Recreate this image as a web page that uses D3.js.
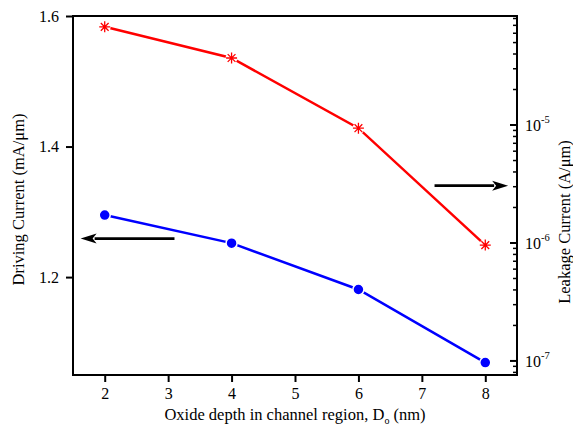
<!DOCTYPE html>
<html>
<head>
<meta charset="utf-8">
<script src="https://cdn.jsdelivr.net/npm/d3@7"></script>
<style>
  body { margin: 0; background: #fff; }
  svg text { font-family: "Liberation Serif", "Times New Roman", serif; fill: #000; }
</style>
</head>
<body>
<svg id="chart" width="573" height="427"></svg>
<script>
// data
let depth = [2, 4, 6, 8];                       // oxide depth (nm)
let drivingCurrent = [1.295, 1.252, 1.181, 1.069]; // mA/um, left axis
let leakageCurrent = [6.8e-5, 3.7e-5, 9.4e-6, 9.6e-7]; // A/um, right axis
let xTicks = [2, 3, 4, 5, 6, 7, 8];
let leftTicks = [1.2, 1.4, 1.6];
let rightTicks = [1e-7, 1e-6, 1e-5];
let rightExps = ['-7', '-6', '-5'];
// arrows pointing to each axis: [x from, x to, y (left axis units)]
let arrows = [[3.1, 1.62, 1.259], [7.2, 8.36, 1.340]];

let svg = d3.select('#chart');
let margin = {top: 16, right: 56, bottom: 52, left: 73};
let W = 573, H = 427;
let x0 = margin.left, x1 = W - margin.right, y0 = H - margin.bottom, y1 = margin.top;

let x = d3.scaleLinear().domain([1.5, 8.5]).range([x0, x1]);
let yL = d3.scaleLinear().domain([1.05, 1.6]).range([y0, y1]);
let yR = d3.scaleLog().domain([7.6e-8, 8.4e-5]).range([y0, y1]);

// frame
svg.append('rect')
  .attr('x', x0).attr('y', y1)
  .attr('width', x1 - x0).attr('height', y0 - y1)
  .attr('fill', 'none').attr('stroke', '#000').attr('stroke-width', 2);

// bottom axis
let xAxis = d3.axisBottom(x).tickValues(xTicks).tickSize(7).tickPadding(6).tickFormat(d3.format('d'));
let gx = svg.append('g').attr('transform', 'translate(0,' + y0 + ')').call(xAxis);
gx.select('.domain').remove();
gx.selectAll('line').attr('stroke-width', 2);
gx.selectAll('text').attr('font-size', 16);

// left axis
let yAxis = d3.axisLeft(yL).tickValues(leftTicks).tickSize(7).tickPadding(7).tickFormat(d3.format('.1f'));
let gy = svg.append('g').attr('transform', 'translate(' + x0 + ',0)').call(yAxis);
gy.select('.domain').remove();
gy.selectAll('line').attr('stroke-width', 2);
gy.selectAll('text').attr('font-size', 16);

// right log axis: inward ticks, minor ticks 2..9
let minor = [];
[1e-8, 1e-7, 1e-6, 1e-5].forEach(function (dec) {
  for (let k = 2; k <= 9; k++) {
    let v = dec * k;
    if (v >= yR.domain()[0] && v <= yR.domain()[1]) minor.push(v);
  }
});
let gr = svg.append('g');
gr.selectAll('line.minor').data(minor).enter().append('line')
  .attr('x1', x1 - 4).attr('x2', x1)
  .attr('y1', d => yR(d)).attr('y2', d => yR(d))
  .attr('stroke', '#000').attr('stroke-width', 1.5);
gr.selectAll('line.major').data(rightTicks).enter().append('line')
  .attr('x1', x1 - 7).attr('x2', x1)
  .attr('y1', d => yR(d)).attr('y2', d => yR(d))
  .attr('stroke', '#000').attr('stroke-width', 2);
let rl = gr.selectAll('text.lab').data(rightTicks).enter().append('text')
  .attr('x', x1 + 8).attr('y', d => yR(d) + 6)
  .attr('font-size', 16);
rl.append('tspan').text('10');
rl.append('tspan').attr('font-size', 10.5).attr('dy', -8).text((d, i) => rightExps[i]);

// series lines
let lineL = d3.line().x((d, i) => x(depth[i])).y(d => yL(d));
let lineR = d3.line().x((d, i) => x(depth[i])).y(d => yR(d));

svg.append('path').datum(leakageCurrent)
  .attr('d', lineR).attr('fill', 'none').attr('stroke', '#ff0000').attr('stroke-width', 2.5);
svg.append('path').datum(drivingCurrent)
  .attr('d', lineL).attr('fill', 'none').attr('stroke', '#0000ff').attr('stroke-width', 2.5);

// star markers
function starPath(r) {
  let p = d3.path();
  for (let a = 0; a < 4; a++) {
    let t = a * Math.PI / 4;
    p.moveTo(-r * Math.cos(t), -r * Math.sin(t));
    p.lineTo(r * Math.cos(t), r * Math.sin(t));
  }
  return p.toString();
}
svg.selectAll('g.star').data(leakageCurrent).enter().append('g')
  .attr('transform', (d, i) => 'translate(' + x(depth[i]) + ',' + yR(d) + ')')
  .each(function () {
    d3.select(this).append('circle').attr('r', 6).attr('fill', '#fff');
    d3.select(this).append('path').attr('d', starPath(5.5))
      .attr('stroke', '#ff0000').attr('stroke-width', 1.3).attr('fill', 'none');
  });

svg.selectAll('circle.dot').data(drivingCurrent).enter().append('circle')
  .attr('class', 'dot')
  .attr('cx', (d, i) => x(depth[i])).attr('cy', d => yL(d))
  .attr('r', 5.5).attr('fill', '#0000ff').attr('stroke', '#fff').attr('stroke-width', 1.5);

// arrows: shaft plus filled head
let headLen = 16, headHalf = 5;
arrows.forEach(function (a) {
  let xs = x(a[0]), xe = x(a[1]), yy = yL(a[2]);
  let dir = xe > xs ? 1 : -1;
  svg.append('line')
    .attr('x1', xs).attr('x2', xe - dir * (headLen - 2))
    .attr('y1', yy).attr('y2', yy)
    .attr('stroke', '#000').attr('stroke-width', 2.8);
  svg.append('path')
    .attr('d', 'M' + xe + ',' + yy +
      ' L' + (xe - dir * headLen) + ',' + (yy - headHalf) +
      ' L' + (xe - dir * (headLen - 4)) + ',' + yy +
      ' L' + (xe - dir * headLen) + ',' + (yy + headHalf) + ' Z')
    .attr('fill', '#000');
});

// axis titles
svg.append('text')
  .attr('transform', 'translate(24,' + ((y0 + y1) / 2 + 4) + ') rotate(-90)')
  .attr('text-anchor', 'middle').attr('font-size', 16.5)
  .text('Driving Current (mA/\u03bcm)');
svg.append('text')
  .attr('transform', 'translate(570,222) rotate(-90)')
  .attr('text-anchor', 'middle').attr('font-size', 16.5)
  .text('Leakage Current (A/\u03bcm)');
let xt = svg.append('text')
  .attr('x', (x0 + x1) / 2).attr('y', 420)
  .attr('text-anchor', 'middle').attr('font-size', 16.5);
xt.append('tspan').text('Oxide depth in channel region, D');
xt.append('tspan').attr('font-size', 10).attr('dy', 4).text('o');
xt.append('tspan').attr('dy', -4).text(' (nm)');
</script>
</body>
</html>
